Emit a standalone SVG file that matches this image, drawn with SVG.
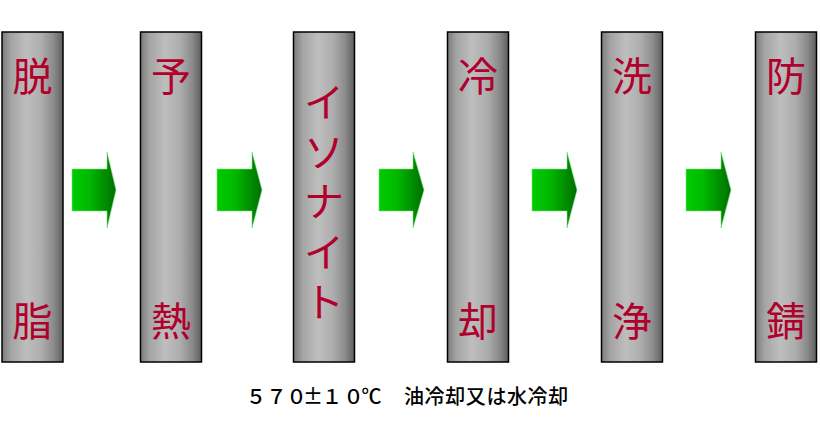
<svg xmlns="http://www.w3.org/2000/svg" width="820" height="430" viewBox="0 0 820 430">
<defs>
<linearGradient id="cyl" x1="0" y1="0" x2="1" y2="0">
<stop offset="0" stop-color="#7c7c7c"/>
<stop offset="0.15" stop-color="#a4a4a4"/>
<stop offset="0.4" stop-color="#bebebe"/>
<stop offset="0.65" stop-color="#adadad"/>
<stop offset="0.85" stop-color="#8a8a8a"/>
<stop offset="1" stop-color="#5e5e5e"/>
</linearGradient>
<linearGradient id="grn" x1="0" y1="0" x2="1" y2="0">
<stop offset="0" stop-color="#00cc00"/>
<stop offset="0.4" stop-color="#00b800"/>
<stop offset="1" stop-color="#006e00"/>
</linearGradient>
</defs>
<style>
.col{fill:url(#cyl);stroke:#000;stroke-width:1.5}
.lbl{font-family:"Noto Sans CJK JP","Noto Sans CJK SC",sans-serif;font-size:40px;fill:#b0002c;text-anchor:middle}
.kana{dominant-baseline:central}
.arr{fill:url(#grn);stroke:#7fe07f;stroke-width:0.6;stroke-linejoin:miter}
.note{font-family:"Noto Sans CJK JP","Noto Sans CJK SC",sans-serif;font-size:20px;fill:#000;font-weight:500}
</style>
<rect width="820" height="430" fill="#fff"/>
<g id="node-dasshi">
<rect class="col" x="2" y="32" width="61" height="330"/>
<text class="lbl" x="32.5" y="91">脱</text>
<text class="lbl" x="32.5" y="336">脂</text>
</g>
<g id="node-yonetsu">
<rect class="col" x="140.5" y="32" width="61" height="330"/>
<text class="lbl" x="171" y="91">予</text>
<text class="lbl" x="171" y="336">熱</text>
</g>
<g id="node-isonite">
<rect class="col" x="293.5" y="32" width="61" height="330"/>
<text class="lbl kana" x="324 324 324 324 324" y="100 150 199 250 300">イソナイト</text>
</g>
<g id="node-reikyaku">
<rect class="col" x="447.5" y="32" width="61" height="330"/>
<text class="lbl" x="478" y="91">冷</text>
<text class="lbl" x="478" y="336">却</text>
</g>
<g id="node-senjou">
<rect class="col" x="601.5" y="32" width="61" height="330"/>
<text class="lbl" x="632" y="91">洗</text>
<text class="lbl" x="632" y="336">浄</text>
</g>
<g id="node-bousei">
<rect class="col" x="755.5" y="32" width="61" height="330"/>
<text class="lbl" x="786" y="91">防</text>
<text class="lbl" x="786" y="336">錆</text>
</g>
<g id="connectors">
<polygon class="arr" points="72,169 107,169 107,152 116,190 107,228 107,211 72,211"/>
<polygon class="arr" points="217,169 252,169 252,152 262,190 252,228 252,211 217,211"/>
<polygon class="arr" points="379,169 413,169 413,152 424,190 413,228 413,211 379,211"/>
<polygon class="arr" points="532,169 567,169 567,152 577,190 567,228 567,211 532,211"/>
<polygon class="arr" points="686,169 721,169 721,152 731,190 721,228 721,211 686,211"/>
</g>
<text class="note" y="404" x="246 266.5 286.5 303 322 343.5 361.5 404 424.6 445.2 465.8 486.4 507 527.6 548.2">５７０±１０℃油冷却又は水冷却</text>
</svg>
